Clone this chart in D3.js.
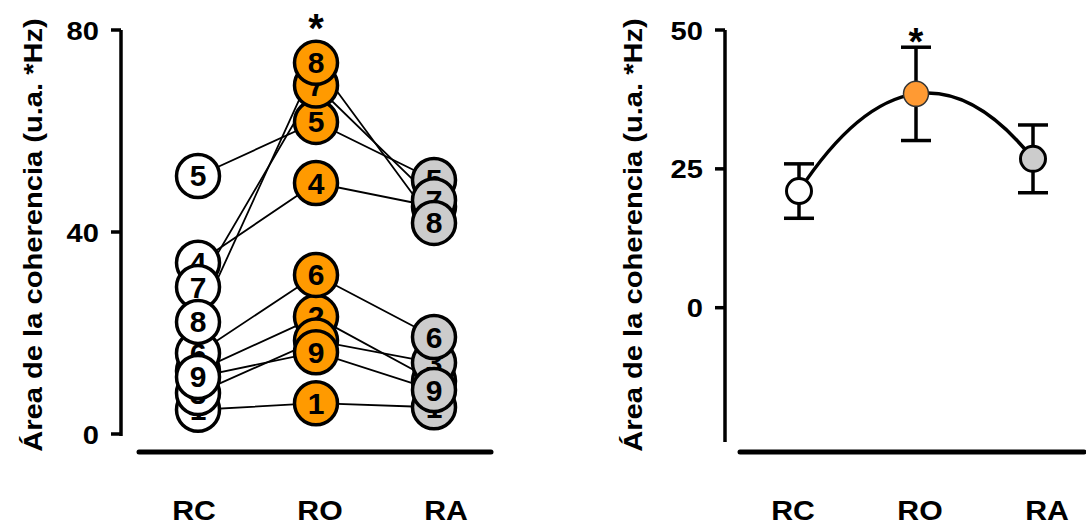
<!DOCTYPE html>
<html>
<head>
<meta charset="utf-8">
<script src="https://cdn.jsdelivr.net/npm/d3@7"></script>
<style>
  html, body { margin: 0; padding: 0; background: #fff; }
  svg { display: block; }
  text { font-family: "Liberation Sans", Arial, sans-serif; font-weight: bold; fill: #000; }
</style>
</head>
<body>
<svg id="chart" width="1086" height="527"></svg>
<script>
// Conditions
const categories = ["RC", "RO", "RA"];
// Subject numbers shown inside the circles
const subjects = [1, 2, 3, 4, 5, 6, 7, 8, 9];
// Individual coherence area per subject (u.a. *Hz)
const valuesRC = [4.8, 12.5, 8.1, 33.9, 51.1, 16.0, 29.1, 22.2, 11.3];
const valuesRO = [6.1, 23.2, 18.5, 49.7, 61.8, 31.5, 69.0, 73.5, 16.2];
const valuesRA = [5.3, 10.5, 14.1, 45.0, 50.3, 19.2, 46.3, 41.8, 8.7];
// Group means and error (SEM)
const means = [21.0, 38.5, 26.8];
const errors = [4.9, 8.4, 6.1];
// Axis ticks
const ticksLeft = [0, 40, 80];
const ticksRight = [0, 25, 50];
// Significance mark
const significant = ["RO"];

const yTitle = "Área de la coherencia (u.a. *Hz)";
const fills = { RC: "#ffffff", RO: "#ff9a00", RA: "#cccccc" };
const fillsMean = { RC: "#ffffff", RO: "#ff9a33", RA: "#cccccc" };
const SX = 1.12; // wide lettering

const svg = d3.select("#chart");

function stretchedText(g, x, y, str, size, anchor, rotate) {
  const t = g.append("g").attr("transform", `translate(${x},${y})` + (rotate ? ` rotate(${rotate})` : ""));
  t.append("text")
    .attr("transform", `scale(${SX},1)`)
    .attr("text-anchor", anchor)
    .attr("font-size", size)
    .text(str);
  return t;
}

function drawYAxis(g, y, ticks, axisX, yTop, yBottom) {
  g.append("line").attr("x1", axisX).attr("x2", axisX).attr("y1", yTop).attr("y2", yBottom)
    .attr("stroke", "#000").attr("stroke-width", 3.5);
  ticks.forEach(v => {
    g.append("line").attr("x1", axisX - 10).attr("x2", axisX).attr("y1", y(v)).attr("y2", y(v))
      .attr("stroke", "#000").attr("stroke-width", 3.5);
    stretchedText(g, axisX - 22, y(v) + 9.5, String(v), 26, "end");
  });
}

function drawXAxis(g, x0, x1, yLine, labelScale) {
  g.append("line").attr("x1", x0).attr("x2", x1).attr("y1", yLine).attr("y2", yLine)
    .attr("stroke", "#000").attr("stroke-width", 5).attr("stroke-linecap", "round");
  categories.forEach(c => stretchedText(g, labelScale(c), 520, c, 27, "middle"));
}

// ---------- Left panel: individual subjects ----------
const left = svg.append("g");
const yL = d3.scaleLinear().domain([0, 80]).range([434, 30]);
const xL = d3.scalePoint().domain(categories).range([198, 434]);
const xLabL = d3.scalePoint().domain(categories).range([194, 446]);

drawYAxis(left, yL, ticksLeft, 121, 30, 436);
drawXAxis(left, 139, 491, 452, xLabL);
stretchedText(left, 42, 235, yTitle, 26, "middle", -90);

const series = { RC: valuesRC, RO: valuesRO, RA: valuesRA };
const rows = subjects.map((s, i) => ({ id: s, vals: categories.map(c => series[c][i]) }));

const line = d3.line().x((d, i) => xL(categories[i])).y(d => yL(d));
left.append("g").selectAll("path").data(rows).join("path")
  .attr("d", d => line(d.vals))
  .attr("fill", "none").attr("stroke", "#000").attr("stroke-width", 1.8);

categories.forEach((c, ci) => {
  const cg = left.append("g");
  rows.forEach(r => {
    const gg = cg.append("g").attr("transform", `translate(${xL(c)},${yL(r.vals[ci])})`);
    gg.append("circle").attr("r", 21.5).attr("fill", fills[c])
      .attr("stroke", "#000").attr("stroke-width", 3.5);
    gg.append("text").attr("text-anchor", "middle").attr("y", 10.5)
      .attr("font-size", 30).text(r.id);
  });
});

significant.forEach(c => {
  left.append("text").attr("x", xL(c)).attr("y", 42).attr("text-anchor", "middle")
    .attr("font-size", 40).text("*");
});

// ---------- Right panel: group means ----------
const right = svg.append("g");
const yR = d3.scaleLinear().domain([-24, 50]).range([441, 30]);
const xR = d3.scalePoint().domain(categories).range([799, 1033]);
const xLabR = d3.scalePoint().domain(categories).range([793, 1047]);

drawYAxis(right, yR, ticksRight, 725, 30, 442);
drawXAxis(right, 740, 1084, 452, xLabR);
stretchedText(right, 642, 235, yTitle, 26, "middle", -90);

// Quadratic trend through the three means (Bezier form of the parabola)
const P = categories.map((c, i) => [xR(c), yR(means[i])]);
const ctrl = [2 * P[1][0] - (P[0][0] + P[2][0]) / 2, 2 * P[1][1] - (P[0][1] + P[2][1]) / 2];
const trend = d3.path();
trend.moveTo(P[0][0], P[0][1]);
trend.quadraticCurveTo(ctrl[0], ctrl[1], P[2][0], P[2][1]);
right.append("path").attr("d", trend.toString())
  .attr("fill", "none").attr("stroke", "#000").attr("stroke-width", 3.5);

categories.forEach((c, i) => {
  const x = xR(c);
  const hi = yR(means[i] + errors[i]), lo = yR(means[i] - errors[i]);
  right.append("line").attr("x1", x).attr("x2", x).attr("y1", hi).attr("y2", lo)
    .attr("stroke", "#000").attr("stroke-width", 3.5);
  [hi, lo].forEach(yy => right.append("line").attr("x1", x - 15).attr("x2", x + 15)
    .attr("y1", yy).attr("y2", yy).attr("stroke", "#000").attr("stroke-width", 3.5));
  right.append("circle").attr("cx", x).attr("cy", yR(means[i])).attr("r", 12.5)
    .attr("fill", fillsMean[c]).attr("stroke", c === "RO" ? "#333" : "#000")
    .attr("stroke-width", c === "RO" ? 1.5 : 3);
});

significant.forEach(c => {
  const i = categories.indexOf(c);
  right.append("text").attr("x", xR(c)).attr("y", yR(means[i] + errors[i]) + 8)
    .attr("text-anchor", "middle").attr("font-size", 38).text("*");
});
</script>
</body>
</html>
